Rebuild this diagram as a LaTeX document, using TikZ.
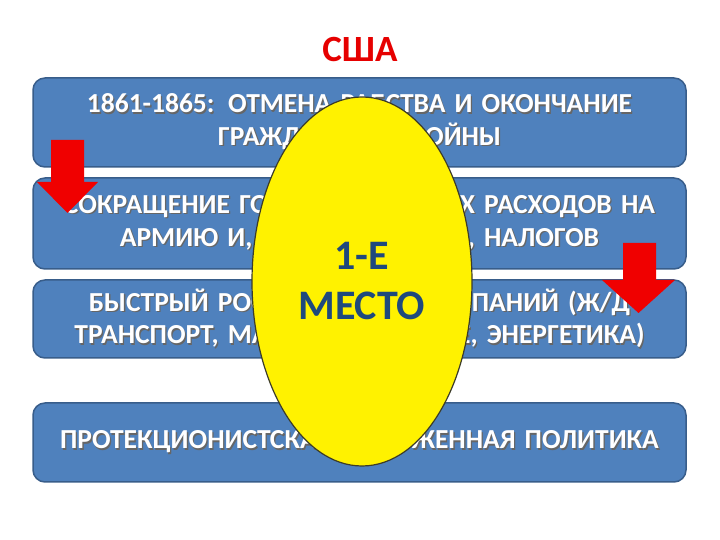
\documentclass[tikz,border=0pt]{standalone}
\usepackage{fontspec}
\setmainfont{Carlito}
\usetikzlibrary{shapes.geometric}
\usetikzlibrary{positioning}

\definecolor{boxblue}{RGB}{79,129,189}
\definecolor{boxline}{RGB}{56,93,138}
\definecolor{titlered}{RGB}{230,0,0}
\definecolor{placeblue}{RGB}{31,73,125}
\definecolor{ovalline}{RGB}{60,60,40}
\definecolor{arrowred}{RGB}{240,0,0}
\newcommand{\shd}[1]{\makebox[0pt][l]{\hspace{1.3pt}\raisebox{-1.3pt}{\textcolor{black!60}{#1}}}#1}

\begin{document}
\begin{tikzpicture}[x=1pt, y=1pt,
  factbox/.style={
    draw=boxline, fill=boxblue, line width=1.5pt,
    rounded corners=12pt, outer sep=0pt,
    minimum width=653pt, text width=640pt, align=center,
    text=white, font=\bfseries\fontsize{27.5}{32.5}\selectfont},
  redarrow/.style={fill=arrowred}]
\useasboundingbox[fill=white] (0,0) rectangle (720,540);
\node[text=titlered, font=\bfseries\fontsize{37}{40}\selectfont] (usa) at (360,490) {США};
\node[factbox, minimum height=89pt] (civilwar) at (359.5,417.5)
  {\shd{1861-1865: ОТМЕНА РАБСТВА И ОКОНЧАНИЕ}\\\shd{ГРАЖДАНСКОЙ ВОЙНЫ}};
\node[factbox, minimum height=91pt, below=11pt of civilwar] (spending)
  {\shd{СОКРАЩЕНИЕ ГОСУДАРСТВЕННЫХ РАСХОДОВ НА}\\\shd{АРМИЮ И, СЛЕДОВАТЕЛЬНО, НАЛОГОВ}};
\node[factbox, minimum height=78pt, below=11pt of spending] (growth)
  {\shd{БЫСТРЫЙ РОСТ КРУПНЫХ КОМПАНИЙ (Ж/Д}\\\shd{ТРАНСПОРТ, МАШИНОСТРОЕНИЕ, ЭНЕРГЕТИКА)}};
\node[factbox, minimum height=79pt, below=45pt of growth] (tariff)
  {\shd{ПРОТЕКЦИОНИСТСКАЯ ТАМОЖЕННАЯ ПОЛИТИКА}};
% red arrows over the boxes
\fill[redarrow] (51,400) -- (84,400) -- (84,358) -- (98,358) -- (67.5,327)
  -- (37,358) -- (51,358) -- cycle;
\fill[redarrow] (623,297) -- (656,297) -- (656,260) -- (675,260) -- (638.5,227)
  -- (602,260) -- (623,260) -- cycle;
\node[ellipse, draw=ovalline, fill=yellow, line width=1.2pt,
  minimum width=220pt, minimum height=369pt, inner sep=0pt,
  align=center, text=placeblue,
  font=\bfseries\fontsize{42}{50}\selectfont] (place) at (362,258.5) {1-Е\\МЕСТО};
\end{tikzpicture}
\end{document}
